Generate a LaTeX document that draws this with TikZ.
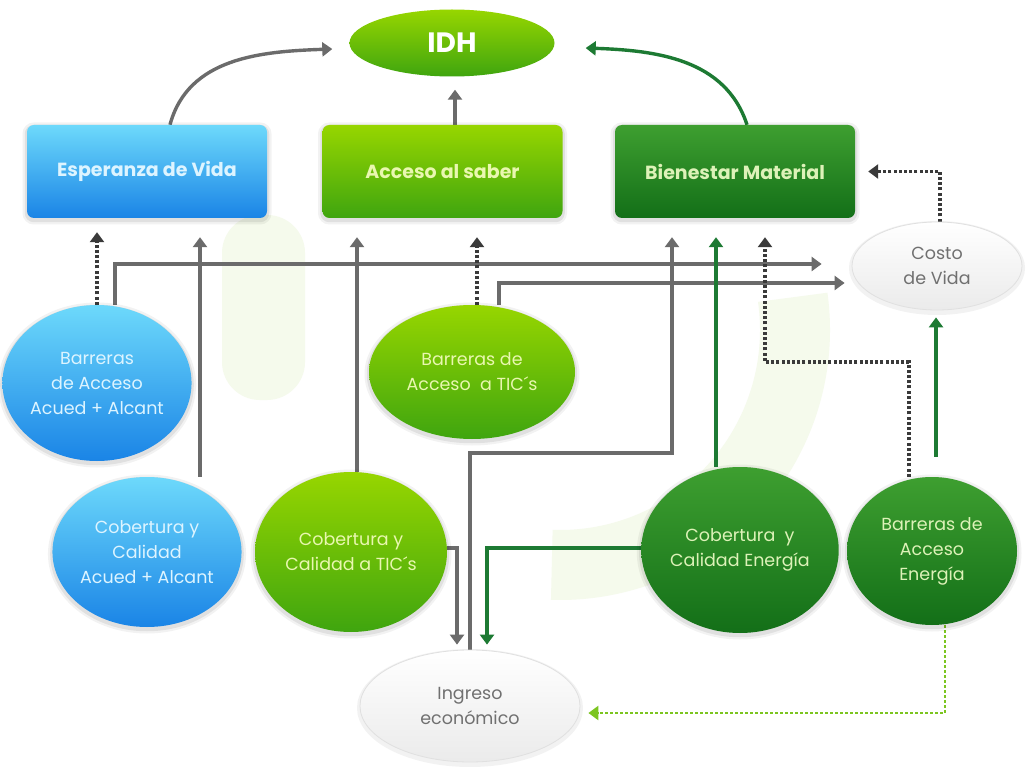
\documentclass[tikz,border=0pt]{standalone}
\usepackage{fontspec}
\setmainfont{Poppins}
\usetikzlibrary{shapes.geometric,arrows.meta,backgrounds}
\definecolor{bluetop}{HTML}{6DD9FB}
\definecolor{bluebot}{HTML}{1A84E6}
\definecolor{lgtop}{HTML}{97D600}
\definecolor{lgbot}{HTML}{3FA50F}
\definecolor{dgtop}{HTML}{3E9F30}
\definecolor{dgbot}{HTML}{136F18}
\definecolor{arrgray}{HTML}{6B6B6B}
\definecolor{dotgray}{HTML}{3A3A3A}
\definecolor{dkgreen}{HTML}{1D7A33}
\definecolor{ltgreen}{HTML}{7CC520}
\definecolor{pale}{HTML}{F5FAEC}
\definecolor{boxtext}{HTML}{F2FAE4}
\definecolor{bltext}{HTML}{DDF4FF}
\definecolor{lgtext}{HTML}{E9F7B0}
\definecolor{dgtext}{HTML}{DDF2B8}
\definecolor{graytext}{HTML}{707070}
\begin{document}
\begin{tikzpicture}[x=1pt,y=-1pt,
  glow/.style={preaction={draw=black, draw opacity=0.05, line width=9pt, transform canvas={yshift=-2pt}},
               preaction={draw=black, draw opacity=0.07, line width=4.5pt, transform canvas={yshift=-2pt}}},
  box/.style={rectangle, rounded corners=7pt, minimum width=240pt, minimum height=93pt,
    inner sep=0pt, font=\bfseries\fontsize{19}{22}\selectfont, text=boxtext, glow},
  ell/.style={ellipse, inner sep=0pt, align=center, font=\fontsize{17.5}{25}\selectfont, glow},
  blue/.style={top color=bluetop, bottom color=bluebot, text=bltext},
  lgreen/.style={top color=lgtop, bottom color=lgbot, text=lgtext},
  dgreen/.style={top color=dgtop, bottom color=dgbot, text=dgtext},
  whiteell/.style={ellipse, inner sep=0pt, align=center, top color=white, bottom color=black!8,
    draw=black!12, line width=0.8pt, text=graytext, font=\fontsize{17.5}{25}\selectfont,
    preaction={draw=black, draw opacity=0.05, line width=6pt, transform canvas={yshift=-2pt}}},
  tip/.style={-{Triangle[width=14pt,length=10pt]}},
  garr/.style={tip, draw=arrgray, line width=3.4pt},
  darr/.style={tip, draw=dotgray, line width=3.2pt, dash pattern=on 3pt off 2.2pt},
  gnarr/.style={tip, draw=dkgreen, line width=3.4pt},
  lgarr/.style={tip, draw=ltgreen, line width=2.8pt, dash pattern=on 2.5pt off 2.5pt}
]
\useasboundingbox (0,0) rectangle (1028,767);

% background and watermark
\begin{scope}[on background layer]
  \fill[white] (0,0) rectangle (1028,767);
  \fill[pale, rounded corners=38pt] (222,215) rectangle (305,400);
  \draw[pale, line width=70pt] (560,330) ++(-8:235) arc[start angle=-8, end angle=92, radius=235];
\end{scope}

% nodes
\node[ellipse, inner sep=0pt, minimum width=205pt, minimum height=67pt, top color=lgtop, bottom color=lgbot,
      text=white, font=\bfseries\fontsize{28}{30}\selectfont] (idh) at (452,43) {IDH};
\node[box, blue] (esp) at (147,171.5) {Esperanza de Vida};
\node[box, lgreen] (acc) at (442.5,171.5) {Acceso al saber};
\node[box, dgreen] (bien) at (735,171.5) {Bienestar Material};
\node[whiteell, minimum width=170pt, minimum height=88pt] (costo) at (937,266) {Costo\\de Vida};
\node[ell, blue, minimum width=170pt, minimum height=156pt] (bacu) at (97,383) {Barreras\\de Acceso\\Acued + Alcant};
\node[ell, blue, minimum width=168pt, minimum height=150pt] (cacu) at (147,552) {Cobertura y\\Calidad\\Acued + Alcant};
\node[ell, lgreen, minimum width=192pt, minimum height=160pt] (ctic) at (351,552) {Cobertura y\\Calidad a TIC´s};
\node[ell, lgreen, minimum width=206pt, minimum height=134pt] (btic) at (472,372) {Barreras de\\Acceso\ \ a TIC´s};
\node[whiteell, minimum width=220pt, minimum height=112pt] (ing) at (470,706) {Ingreso\\económico};
\node[ell, dgreen, minimum width=186pt, minimum height=166pt] (cen) at (740,550) {Cobertura\ \ y\\Calidad Energía};
\node[ell, dgreen, minimum width=170pt, minimum height=148pt] (ben) at (932,551) {Barreras de\\Acceso\\Energía};

% connectors
\begin{scope}[on background layer]
  % to IDH
  \draw[garr] (esp.north -| 170,0) to[out=75,in=182] ([xshift=-17pt,yshift=-6pt]idh.west);
  \draw[garr, shorten >=13pt] (acc.north -| 455,0) -- (idh.south -| 455,0);
  \draw[gnarr] (bien.north -| 747,0) to[out=108,in=-2] ([xshift=31pt,yshift=-5pt]idh.east);
  % Costo de Vida -> Bienestar
  \draw[darr, shorten >=13pt] (costo.north -| 940,0) |- (bien.east);
  % Acued + Alcant
  \draw[darr, shorten >=14pt] (bacu.north) -- (esp.south -| bacu.north);
  \draw[garr] (bacu.north -| 115,0) |- ([xshift=-30pt,yshift=2pt]costo.west);
  \draw[garr, shorten >=19pt] (cacu.north -| 200,0) -- (esp.south -| 200,0);
  % TIC
  \draw[garr] (btic.north -| 499,0) |- ([xshift=-7pt,yshift=-17pt]costo.west);
  \draw[darr, shorten >=19pt] (btic.north -| 477,0) -- (acc.south -| 477,0);
  \draw[garr, shorten >=19pt] (ctic.north -| 357,0) -- (acc.south -| 357,0);
  \draw[garr, shorten >=5pt] ([yshift=4pt]ctic.east) -| ([xshift=-13pt]ing.north);
  % Ingreso -> Bienestar
  \draw[garr, shorten >=19pt] (ing.north) -- (ing.north |- 0,453) -| (bien.south -| 672,0);
  % Energia
  \draw[gnarr, shorten >=19pt] (cen.north -| 716,0) -- (bien.south -| 716,0);
  \draw[gnarr, shorten >=5pt] ([yshift=2pt]cen.west) -| ([xshift=17pt]ing.north);
  \draw[darr, shorten >=19pt] (ben.north -| 909,0) -- (909,362) -| (bien.south -| 765,0);
  \draw[gnarr, shorten <=20pt, shorten >=7pt] (ben.north -| 936,0) -- (costo.south -| 936,0);
  \draw[lgarr] (ben.south -| 945,0) |- ([xshift=8pt,yshift=-7pt]ing.east);
\end{scope}
\end{tikzpicture}
\end{document}
